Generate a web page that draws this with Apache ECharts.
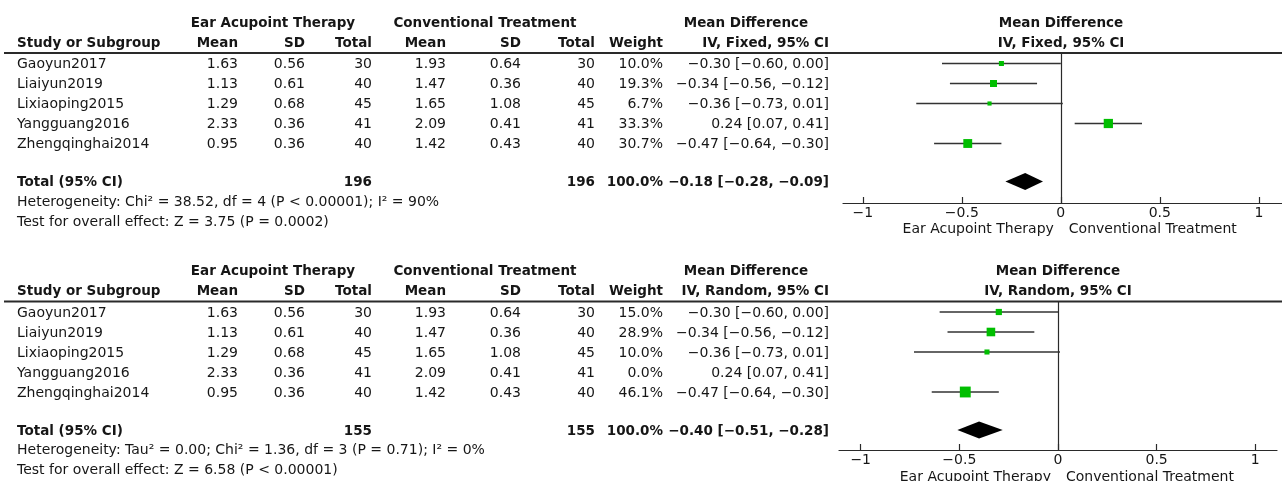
<!DOCTYPE html>
<html>
<head>
<meta charset="utf-8">
<title>Forest plot: Ear Acupoint Therapy vs Conventional Treatment</title>
<script src="https://cdn.jsdelivr.net/npm/echarts@6/dist/echarts.min.js"></script>
<style>
  html, body { margin: 0; padding: 0; background: #ffffff; }
  #chart { width: 1282px; height: 481px; }
</style>
</head>
<body>
<div id="chart"></div>
<script>
// ---- Study data ----
const studies = ['Gaoyun2017', 'Liaiyun2019', 'Lixiaoping2015', 'Yangguang2016', 'Zhengqinghai2014'];
const earMean = [1.63, 1.13, 1.29, 2.33, 0.95];
const earSD = [0.56, 0.61, 0.68, 0.36, 0.36];
const earN = [30, 40, 45, 41, 40];
const convMean = [1.93, 1.47, 1.65, 2.09, 1.42];
const convSD = [0.64, 0.36, 1.08, 0.41, 0.43];
const convN = [30, 40, 45, 41, 40];
const mdEst = [-0.30, -0.34, -0.36, 0.24, -0.47];
const mdLow = [-0.60, -0.56, -0.73, 0.07, -0.64];
const mdHigh = [0.00, -0.12, 0.01, 0.41, -0.30];

// ---- Fixed-effect analysis ----
const fixedWeight = [10.0, 19.3, 6.7, 33.3, 30.7];
const fixedTotals = [196, 196];
const fixedPooled = [-0.18, -0.28, -0.09];
const fixedNotes = [
  'Heterogeneity: Chi\u00b2 = 38.52, df = 4 (P < 0.00001); I\u00b2 = 90%',
  'Test for overall effect: Z = 3.75 (P = 0.0002)'
];

// ---- Random-effects analysis ----
const randomWeight = [15.0, 28.9, 10.0, 0.0, 46.1];
const randomTotals = [155, 155];
const randomPooled = [-0.40, -0.51, -0.28];
const randomNotes = [
  'Heterogeneity: Tau\u00b2 = 0.00; Chi\u00b2 = 1.36, df = 3 (P = 0.71); I\u00b2 = 0%',
  'Test for overall effect: Z = 6.58 (P < 0.00001)'
];

// ---- Axis ticks ----
const tickValues = [-1, -0.5, 0, 0.5, 1];
const leftCaption = 'Ear Acupoint Therapy';
const rightCaption = 'Conventional Treatment';

// ---- Layout / style ----
const FONT = '"DejaVu Sans", sans-serif';
const INK = '#161616';
const LINE = '#2a2a2a';
const GREEN = '#00be00';
const ROW_PX = 20;
const TOTAL_ROW = 5.9;
const COL = { study: 17, m1: 238, s1: 305, n1: 372, m2: 446, s2: 521, n2: 595, w: 663, ci: 829 };

const panels = [
  { method: 'IV, Fixed, 95% CI', weights: fixedWeight, totals: fixedTotals, pooled: fixedPooled, notes: fixedNotes,
    dy: 0, gridLeft: 843, gridTop: 53, gridWidth: 439, gridHeight: 150, xMin: -1.1, xMax: 1.117,
    yMin: -0.525, yMax: 6.975, zeroX: 1061, captionRow: 8.3 },
  { method: 'IV, Random, 95% CI', weights: randomWeight, totals: randomTotals, pooled: randomPooled, notes: randomNotes,
    dy: 248.5, gridLeft: 839, gridTop: 301.5, gridWidth: 438, gridHeight: 148.5, xMin: -1.11, xMax: 1.11,
    yMin: -0.525, yMax: 6.9, zeroX: 1058, captionRow: 8.25 }
];

function fmt(v, d) {
  const s = Math.abs(v).toFixed(d);
  return (v < 0 && Number(s) !== 0 ? '\u2212' : '') + s;
}
function ciText(m, l, h) { return fmt(m, 2) + ' [' + fmt(l, 2) + ', ' + fmt(h, 2) + ']'; }

function txt(x, y, text, align, bold) {
  return {
    type: 'text',
    style: {
      x: x, y: y, text: text,
      align: align || 'left', verticalAlign: 'middle',
      font: (bold ? 'bold 13.5px ' : '14px ') + FONT,
      fill: INK
    }
  };
}

const grids = [], xAxes = [], yAxes = [], series = [], graphics = [];

panels.forEach(function (p, pi) {
  grids.push({ left: p.gridLeft, top: p.gridTop, width: p.gridWidth, height: p.gridHeight, containLabel: false });
  xAxes.push({
    type: 'value', gridIndex: pi, min: p.xMin, max: p.xMax, position: 'bottom',
    axisLine: { show: true, onZero: false, lineStyle: { color: LINE, width: 1.2 } },
    axisTick: { show: true, inside: true, length: 6, customValues: tickValues, lineStyle: { color: LINE, width: 1.2 } },
    axisLabel: {
      show: true, customValues: tickValues, margin: 3, color: INK, fontSize: 14, fontFamily: FONT,
      formatter: function (v) { return String(v).replace('-', '\u2212'); }
    },
    splitLine: { show: false }
  });
  yAxes.push({
    type: 'value', gridIndex: pi, min: p.yMin, max: p.yMax, inverse: true,
    axisLine: { show: true, onZero: true, lineStyle: { color: LINE, width: 1.2 } },
    axisTick: { show: false }, axisLabel: { show: false }, splitLine: { show: false }
  });

  // Table rows (study rows + total row), positioned on the panel's row axis
  const rowData = studies.map(function (s, i) { return [0, i]; });
  rowData.push([0, TOTAL_ROW]);
  series.push({
    type: 'custom', xAxisIndex: pi, yAxisIndex: pi, silent: true, clip: false,
    data: rowData,
    renderItem: function (params, api) {
      const i = params.dataIndex;
      const y = api.coord([0, api.value(1)])[1] + 1;
      let cells;
      if (i < studies.length) {
        cells = [
          txt(COL.study, y, studies[i], 'left'),
          txt(COL.m1, y, earMean[i].toFixed(2), 'right'),
          txt(COL.s1, y, earSD[i].toFixed(2), 'right'),
          txt(COL.n1, y, String(earN[i]), 'right'),
          txt(COL.m2, y, convMean[i].toFixed(2), 'right'),
          txt(COL.s2, y, convSD[i].toFixed(2), 'right'),
          txt(COL.n2, y, String(convN[i]), 'right'),
          txt(COL.w, y, p.weights[i].toFixed(1) + '%', 'right'),
          txt(COL.ci, y, ciText(mdEst[i], mdLow[i], mdHigh[i]), 'right')
        ];
      } else {
        const wsum = p.weights.reduce(function (a, b) { return a + b; }, 0);
        cells = [
          txt(COL.study, y, 'Total (95% CI)', 'left', true),
          txt(COL.n1, y, String(p.totals[0]), 'right', true),
          txt(COL.n2, y, String(p.totals[1]), 'right', true),
          txt(COL.w, y, wsum.toFixed(1) + '%', 'right', true),
          txt(COL.ci, y, ciText(p.pooled[0], p.pooled[1], p.pooled[2]), 'right', true)
        ];
      }
      return { type: 'group', children: cells };
    }
  });

  // Study confidence intervals with weight-scaled squares
  const ciData = [];
  studies.forEach(function (s, i) {
    if (p.weights[i] > 0) ciData.push([mdEst[i], i, mdLow[i], mdHigh[i], p.weights[i]]);
  });
  series.push({
    type: 'custom', xAxisIndex: pi, yAxisIndex: pi, silent: true, clip: false,
    encode: { x: [0, 2, 3], y: 1 },
    data: ciData,
    renderItem: function (params, api) {
      const c = api.coord([api.value(0), api.value(1)]);
      const lo = api.coord([api.value(2), api.value(1)]);
      const hi = api.coord([api.value(3), api.value(1)]);
      const size = 1.6 * Math.sqrt(api.value(4));
      return {
        type: 'group',
        children: [
          { type: 'line', shape: { x1: lo[0], y1: c[1], x2: hi[0], y2: c[1] },
            style: { stroke: '#333333', lineWidth: 1.4 } },
          { type: 'rect', shape: { x: c[0] - size / 2, y: c[1] - size / 2, width: size, height: size },
            style: { fill: GREEN } }
        ]
      };
    }
  });

  // Pooled estimate diamond
  series.push({
    type: 'custom', xAxisIndex: pi, yAxisIndex: pi, silent: true, clip: false,
    encode: { x: [0, 2, 3], y: 1 },
    data: [[p.pooled[0], TOTAL_ROW, p.pooled[1], p.pooled[2]]],
    renderItem: function (params, api) {
      const c = api.coord([api.value(0), api.value(1)]);
      const lo = api.coord([api.value(2), api.value(1)]);
      const hi = api.coord([api.value(3), api.value(1)]);
      const h = 8.5;
      return {
        type: 'polygon',
        shape: { points: [[lo[0], c[1]], [c[0], c[1] - h], [hi[0], c[1]], [c[0], c[1] + h]] },
        style: { fill: '#000000' }
      };
    }
  });

  // Direction captions under the axis, either side of zero
  series.push({
    type: 'custom', xAxisIndex: pi, yAxisIndex: pi, silent: true, clip: false,
    data: [[0, p.captionRow]],
    renderItem: function (params, api) {
      const c = api.coord([api.value(0), api.value(1)]);
      return {
        type: 'group',
        children: [
          txt(c[0] - 7, c[1], leftCaption, 'right'),
          txt(c[0] + 8, c[1], rightCaption, 'left')
        ]
      };
    }
  });

  // Column headers, rule and footnotes
  const d = p.dy;
  const h1 = 23 + d, h2 = 43 + d;
  graphics.push(
    txt(273, h1, 'Ear Acupoint Therapy', 'center', true),
    txt(485, h1, 'Conventional Treatment', 'center', true),
    txt(746, h1, 'Mean Difference', 'center', true),
    txt(p.zeroX, h1, 'Mean Difference', 'center', true),
    txt(COL.study, h2, 'Study or Subgroup', 'left', true),
    txt(COL.m1, h2, 'Mean', 'right', true),
    txt(COL.s1, h2, 'SD', 'right', true),
    txt(COL.n1, h2, 'Total', 'right', true),
    txt(COL.m2, h2, 'Mean', 'right', true),
    txt(COL.s2, h2, 'SD', 'right', true),
    txt(COL.n2, h2, 'Total', 'right', true),
    txt(COL.w, h2, 'Weight', 'right', true),
    txt(COL.ci, h2, p.method, 'right', true),
    txt(p.zeroX, h2, p.method, 'center', true),
    { type: 'line', shape: { x1: 4, y1: p.gridTop, x2: 1282, y2: p.gridTop },
      style: { stroke: LINE, lineWidth: 2 } },
    txt(COL.study, 202 + d, p.notes[0], 'left'),
    txt(COL.study, 222 + d, p.notes[1], 'left')
  );
});

const chart = echarts.init(document.getElementById('chart'), null, { renderer: 'canvas' });
chart.setOption({
  animation: false,
  backgroundColor: '#ffffff',
  grid: grids,
  xAxis: xAxes,
  yAxis: yAxes,
  series: series,
  graphic: graphics
});
</script>
</body>
</html>
